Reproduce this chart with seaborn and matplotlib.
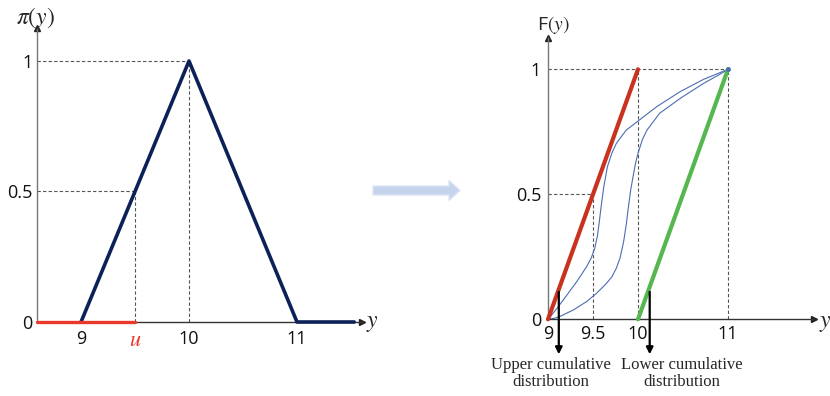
import matplotlib
matplotlib.use('Agg')
import matplotlib.pyplot as plt
import matplotlib.transforms as mtransforms
from matplotlib.patches import FancyArrow
import seaborn as sns

# ---- data ----
# left panel: possibility distribution pi(y)
pi_x = [9, 10, 11, 11.53]
pi_v = [0, 1, 0, 0]
u_x = [8.59, 9.5]
u_v = [0, 0]
left_xticks = [9, 9.5, 10, 11]
left_xlabels = ['9', '$u$', '10', '11']
left_yticks = [0, 0.5, 1]
left_ylabels = ['0', '0.5', '1']

# right panel: cumulative bounds and two possible cdfs
upper_x = [9, 10]
upper_v = [0, 1]
lower_x = [10, 11]
lower_v = [0, 1]
cdf1_x = [9, 9.05, 9.10, 9.21, 9.32, 9.43, 9.48, 9.52, 9.55, 9.57, 9.59, 9.62, 9.66, 9.71, 9.76, 9.87, 10.0,
          10.21, 10.47, 10.73, 10.9, 11]
cdf1_v = [0, 0.021, 0.044, 0.097, 0.151, 0.211, 0.245, 0.285, 0.335, 0.39, 0.45, 0.53, 0.61, 0.665, 0.704, 0.757,
          0.793, 0.851, 0.911, 0.96, 0.985, 1]
cdf2_x = [9, 9.07, 9.13, 9.28, 9.43, 9.54, 9.65, 9.71, 9.76, 9.80, 9.84, 9.87, 9.89, 9.92, 9.95, 9.97, 10.0,
          10.05, 10.10, 10.24, 10.47, 10.73, 10.9, 11]
cdf2_v = [0, 0.004, 0.011, 0.037, 0.071, 0.104, 0.144, 0.17, 0.205, 0.245, 0.31, 0.38, 0.44, 0.52, 0.58, 0.62,
          0.664, 0.72, 0.757, 0.824, 0.884, 0.944, 0.978, 1]
right_xticks = [9, 9.5, 10, 11]
right_xlabels = ['9', '9.5', '10', '11']
right_yticks = [0, 0.5, 1]
right_ylabels = ['0', '0.5', '1']
arrow_x = [9.12, 10.13]

sns.set_style('white')
plt.rcParams['font.family'] = ['Open Sans', 'DejaVu Sans']
plt.rcParams['mathtext.fontset'] = 'stix'

fig = plt.figure(figsize=(8.3, 3.96), dpi=100)

dash = dict(color='#555555', lw=0.8, ls=(0, (3, 2)), zorder=1)


def setup_axes(ax, x0, xend, ytop, ypad_x, ypad_y):
    for s in ['top', 'right']:
        ax.spines[s].set_visible(False)
    ax.spines['left'].set_position(('data', x0))
    ax.spines['bottom'].set_position(('data', 0))
    ax.spines['left'].set_bounds(0, ytop)
    ax.spines['bottom'].set_bounds(x0, xend)
    ax.spines['left'].set_color('#777777')
    ax.spines['bottom'].set_color('#333333')
    ax.spines['left'].set_linewidth(1)
    ax.spines['bottom'].set_linewidth(1)
    ax.plot(xend, 0, '>', color='#222222', ms=4, clip_on=False)
    ax.plot(x0, ytop, '^', color='#222222', ms=4, clip_on=False)
    ax.tick_params(axis='both', length=0, labelsize=13, colors='#111111')
    ax.tick_params(axis='x', pad=ypad_x)
    ax.tick_params(axis='y', pad=ypad_y)
    ax.set_facecolor('none')


# ---- left panel ----
ax1 = fig.add_axes([27 / 830, 0, 356 / 830, 1])
ax1.set_xlim(8.5, 8.5 + 356 / 108)
ax1.set_ylim(-74 / 261, 1 + 61 / 261)
setup_axes(ax1, 8.59, 11.6, 1.125, 6, 3)
ax1.set_xticks(left_xticks)
ax1.set_xticklabels(left_xlabels)
ax1.set_yticks(left_yticks)
ax1.set_yticklabels(left_ylabels)
lab_u = ax1.get_xticklabels()[1]
lab_u.set_color('#e8392b')
lab_u.set_fontsize(16)

ax1.plot([8.59, 10], [1, 1], **dash)
ax1.plot([10, 10], [0, 1], **dash)
ax1.plot([8.59, 9.5], [0.5, 0.5], **dash)
ax1.plot([9.5, 9.5], [0, 0.5], **dash)

sns.lineplot(x=pi_x, y=pi_v, sort=False, color='#0d2159', lw=2.6, ax=ax1, zorder=3)
sns.lineplot(x=u_x, y=u_v, sort=False, color='#e8392b', lw=2.4, ax=ax1, zorder=4)
ax1.set_xlabel('')
ax1.set_ylabel('')
ax1.text(8.583, 1.165, r'$\pi(y)$', fontsize=17, ha='center', va='center')
ax1.text(11.70, 0.0, r'$y$', fontsize=17, ha='center', va='center')

# ---- right panel ----
ax2 = fig.add_axes([500 / 830, 0, 330 / 830, 1])
ax2.set_xlim(9 - 48 / 90, 9 + 282 / 90)
ax2.set_ylim(-76.7 / 250, 1 + 69.3 / 250)
setup_axes(ax2, 9, 11.96, 1.125, 4, 5)
ax2.set_xticks(right_xticks)
ax2.set_xticklabels(right_xlabels)
ax2.set_yticks(right_yticks)
ax2.set_yticklabels(right_ylabels)

ax2.plot([9, 11], [1, 1], **dash)
ax2.plot([10, 10], [0, 1], **dash)
ax2.plot([11, 11], [0, 1], **dash)
ax2.plot([9, 9.5], [0.5, 0.5], **dash)
ax2.plot([9.5, 9.5], [0, 0.5], **dash)

sns.lineplot(x=cdf1_x, y=cdf1_v, sort=False, color='#4a6cb3', lw=0.8, ax=ax2, zorder=2)
sns.lineplot(x=cdf2_x, y=cdf2_v, sort=False, color='#4a6cb3', lw=0.8, ax=ax2, zorder=2)
sns.lineplot(x=upper_x, y=upper_v, sort=False, color='#c8321f', lw=3, ax=ax2, zorder=3)
sns.lineplot(x=lower_x, y=lower_v, sort=False, color='#56b64f', lw=3, ax=ax2, zorder=3)
ax2.plot(11, 1, 'o', color='#4a6cb3', ms=2.5, zorder=4)
ax2.set_xlabel('')
ax2.set_ylabel('')

for ax_x in arrow_x:
    ax2.annotate('', xy=(ax_x, -0.14), xytext=(ax_x, 0.11),
                 arrowprops=dict(arrowstyle='-|>', lw=1.6, color='black',
                                 mutation_scale=10, shrinkA=0, shrinkB=0),
                 zorder=5, annotation_clip=False)

ax2.text(9.056, 1.177, r'F$(y)$', fontsize=14, ha='center', va='center')
ax2.text(12.08, -0.01, r'$y$', fontsize=17, ha='center', va='center', clip_on=False)
ax2.text(9.03, -0.15, 'Upper cumulative\ndistribution', ha='center', va='top',
         family='Liberation Serif', fontsize=12, linespacing=1.1, clip_on=False)
ax2.text(10.49, -0.15, 'Lower cumulative\ndistribution', ha='center', va='top',
         family='Liberation Serif', fontsize=12, linespacing=1.1, clip_on=False)

# ---- middle block arrow ----
fig.patches.append(FancyArrow(373, 396 - 190.5, 76, 0, width=9, head_width=20,
                              head_length=11, length_includes_head=False,
                              facecolor='#c5d3ed', edgecolor='#dde5f5', lw=1,
                              transform=mtransforms.IdentityTransform(), figure=fig))

fig.savefig('out.png', dpi=100)
